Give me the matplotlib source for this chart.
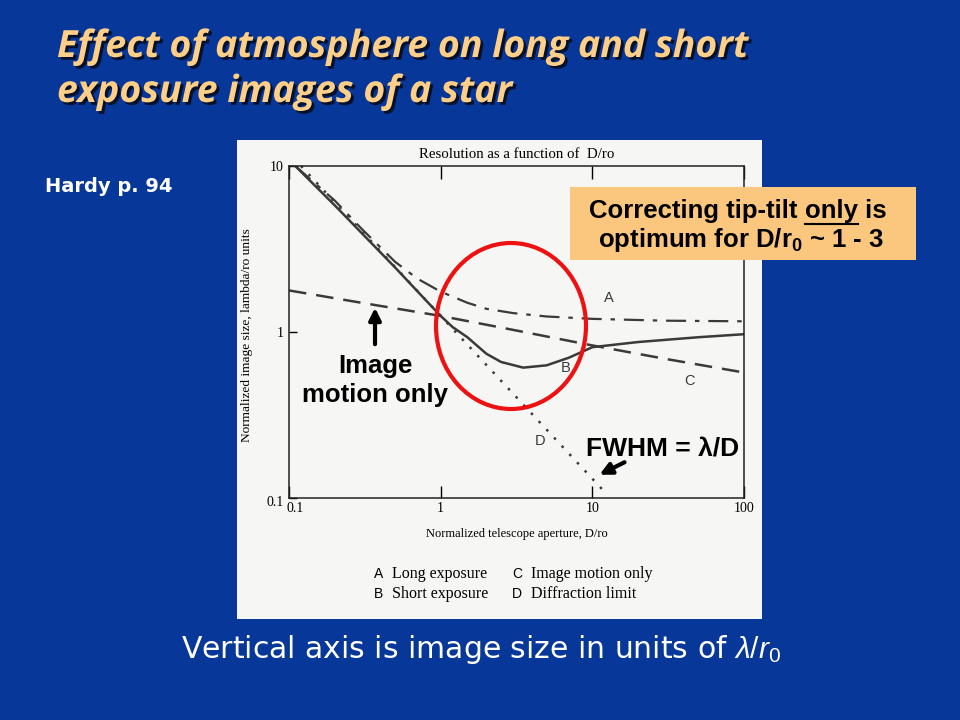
import numpy as np
import matplotlib.pyplot as plt
import matplotlib.patheffects as pe
import matplotlib.transforms as mtransforms
from matplotlib.patches import Rectangle, Ellipse, FancyArrowPatch
from matplotlib.lines import Line2D

plt.rcParams['mathtext.fontset'] = 'custom'
plt.rcParams['mathtext.rm'] = 'Liberation Sans'
plt.rcParams['mathtext.it'] = 'Liberation Sans:italic'
plt.rcParams['mathtext.bf'] = 'Liberation Sans:bold'

# curves (D/r0 vs image size in lambda/r0)
x_a = [0.11, 0.2, 0.3, 0.5, 0.7, 1.0, 1.5, 2, 3, 5, 10, 30, 100]
y_a = [10, 6.2, 4.2, 2.65, 2.1, 1.75, 1.5, 1.38, 1.3, 1.24, 1.2, 1.17, 1.16]
x_b = [0.11, 0.2, 0.5, 0.8, 1.0, 1.2, 1.5, 2, 2.5, 3.5, 5, 7, 10, 20, 50, 100]
y_b = [10, 5.8, 2.45, 1.55, 1.25, 1.07, 0.93, 0.74, 0.66, 0.61, 0.63, 0.70, 0.81, 0.87, 0.93, 0.97]
x_c = [0.1, 0.3, 1, 3, 10, 30, 100]
y_c = [1.78, 1.5, 1.25, 1.03, 0.83, 0.69, 0.57]
x_d = [0.12, 12.5]
y_d = [10, 0.105]

curve_labels = ['A', 'B', 'C', 'D']
label_x = [12.9, 6.7, 44, 4.5]
label_y = [1.6, 0.61, 0.51, 0.22]

W, H = 960, 720
def fx(px):
    return px / W
def fy(py):
    return 1 - py / H

fig = plt.figure(figsize=(9.6, 7.2), dpi=100)
fig.patch.set_facecolor('#063799')

# white scanned panel
panel = Rectangle((fx(237), fy(619)), fx(762) - fx(237), fy(140) - fy(619),
                  transform=fig.transFigure, facecolor='#f6f6f4', edgecolor='none', zorder=-5)
fig.patches.append(panel)

ax = fig.add_axes([fx(289), fy(498), fx(744) - fx(289), fy(166) - fy(498)])
ax.set_zorder(1)
ax.set_facecolor('none')
ax.set_xscale('log')
ax.set_yscale('log')
ax.set_xlim(0.1, 100)
ax.set_ylim(0.1, 10)

lc = '#3a3a3a'
ax.plot(x_a, y_a, color=lc, lw=1.6, dashes=(9, 4, 2, 4))
ax.plot(x_b, y_b, color=lc, lw=1.8)
ax.plot(x_c, y_c, color=lc, lw=1.8, dashes=(7, 4))
ax.plot(x_d, y_d, color=lc, lw=1.8, dashes=(1, 3.5), clip_on=False)

for lab, lx, ly in zip(curve_labels, label_x, label_y):
    ax.text(lx, ly, lab, fontsize=10.5, family='Liberation Sans', color=lc,
            ha='center', va='center')

serif = 'Liberation Serif'
ax.set_xticks([0.1, 1, 10, 100])
ax.set_xticklabels(['0.1', '1', '10', '100'], family=serif, fontsize=10)
ax.set_yticks([0.1, 1, 10])
ax.set_yticklabels(['0.1', '1', '10'], family=serif, fontsize=10)
ax.minorticks_off()
ax.tick_params(axis='x', direction='in', length=9, top=True, width=1, pad=3)
ax.tick_params(axis='y', direction='in', length=6, width=1, pad=4)
for s in ax.spines.values():
    s.set_linewidth(1.1)
    s.set_color('#222222')

# nudge the corner labels like in the scan
ax.get_xticklabels()[0].set_transform(ax.get_xticklabels()[0].get_transform()
                                      + mtransforms.ScaledTranslation(6 / 100, 0, fig.dpi_scale_trans))
ax.get_yticklabels()[0].set_transform(ax.get_yticklabels()[0].get_transform()
                                      + mtransforms.ScaledTranslation(0, -3 / 100, fig.dpi_scale_trans))

ax.set_title('Resolution as a function of  D/ro', family=serif, fontsize=10.7, pad=6)
ax.set_xlabel('Normalized telescope aperture, D/ro', family=serif, fontsize=9, labelpad=9)
ax.set_ylabel('Normalized image size, lambda/ro units', family=serif, fontsize=9.6, labelpad=3)
ax.yaxis.set_label_coords(-0.08, 0.49)

# legend lines under the figure
for row, (l1, t1, l2, t2) in enumerate([('A', 'Long exposure', 'C', 'Image motion only'),
                                        ('B', 'Short exposure', 'D', 'Diffraction limit')]):
    yy = fy(574 + row * 20)
    fig.text(fx(374), yy, l1, family='Liberation Sans', fontsize=10, va='center')
    fig.text(fx(392), yy, t1, family=serif, fontsize=11.5, va='center')
    fig.text(fx(512), yy, l2, family='Liberation Sans', fontsize=10, va='center')
    fig.text(fx(531), yy, t2, family=serif, fontsize=11.5, va='center')

# red circle
circ = Ellipse((fx(511), fy(326)), fx(150), 166 / H, transform=fig.transFigure,
               facecolor='none', edgecolor='#ee1111', lw=3, zorder=5)
fig.patches.append(circ)

# annotations
bold = dict(family='Liberation Sans', weight='bold', color='black')
fig.text(fx(375), fy(366), 'Image', fontsize=18.5, ha='center', va='center', zorder=6, **bold)
fig.text(fx(375), fy(395), 'motion only', fontsize=18.5, ha='center', va='center', zorder=6, **bold)
fig.patches.append(FancyArrowPatch((fx(375), fy(347)), (fx(375), fy(305)), transform=fig.transFigure,
                                   arrowstyle='-|>,head_length=7,head_width=3.5', lw=3, color='black',
                                   mutation_scale=1, zorder=6))
fig.text(fx(663), fy(448), 'FWHM = λ/D', fontsize=19, ha='center', va='center', zorder=6, **bold)
fig.patches.append(FancyArrowPatch((fx(627), fy(461)), (fx(597), fy(476)), transform=fig.transFigure,
                                   arrowstyle='-|>,head_length=7,head_width=3.5', lw=3, color='black',
                                   mutation_scale=1, zorder=6))

# orange box
box = Rectangle((fx(570), fy(260)), fx(916) - fx(570), fy(187) - fy(260), transform=fig.transFigure,
                facecolor='#fbc77f', edgecolor='none', zorder=6)
fig.patches.append(box)
r = fig.canvas.get_renderer()
y1 = fy(211)
p1 = fig.text(fx(589), y1, 'Correcting tip-tilt ', fontsize=18.5, va='center', zorder=7, **bold)
e1 = p1.get_window_extent(r)
p2 = fig.text(e1.x1 / W, y1, 'only', fontsize=18.5, va='center', zorder=7, **bold)
e2 = p2.get_window_extent(r)
fig.text(e2.x1 / W, y1, ' is', fontsize=18.5, va='center', zorder=7, **bold)
fig.lines.append(Line2D([e2.x0 / W, e2.x1 / W], [fy(224), fy(224)], transform=fig.transFigure,
                        color='black', lw=1.5, zorder=7))
fig.text(fx(741), fy(240), r'optimum for D/$\mathbf{r_0}$ ~ 1 - 3', fontsize=18.5, ha='center',
         va='center', zorder=7, **bold)

# slide texts
title_fx = [pe.withSimplePatchShadow(offset=(2, -2), shadow_rgbFace='black', alpha=0.7)]
fig.text(fx(57), fy(47), 'Effect of atmosphere on long and short', fontsize=27, color='#ffcf87',
         family='Open Sans', weight='bold', style='italic', va='center', path_effects=title_fx)
fig.text(fx(57), fy(92), 'exposure images of a star', fontsize=27, color='#ffcf87',
         family='Open Sans', weight='bold', style='italic', va='center', path_effects=title_fx)
fig.text(fx(45), fy(186), 'Hardy p. 94', fontsize=14, color='white', family='DejaVu Sans',
         weight='bold', va='center')
fig.text(fx(481), fy(650), r'Vertical axis is image size in units of $\lambda/r_0$', fontsize=21.5,
         color='white', family='DejaVu Sans', ha='center', va='center')

fig.savefig('out.png', dpi=100, facecolor=fig.get_facecolor())
